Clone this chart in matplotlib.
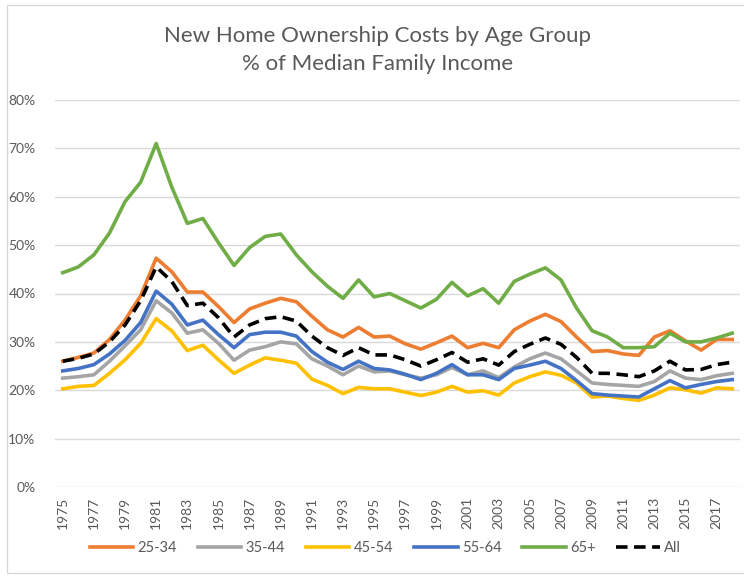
import matplotlib
matplotlib.use("Agg")
import matplotlib.pyplot as plt
from matplotlib.patches import Rectangle
from matplotlib.ticker import FuncFormatter

plt.rcParams["font.family"] = ["Lato", "DejaVu Sans"]

years = list(range(1975, 2019))

age_25_34 = [26, 26.8, 27.7, 30.5, 34.5, 39.5, 47.3, 44.5, 40.3, 40.3, 37.3, 34, 36.8, 38, 39, 38.3,
             35.3, 32.5, 31, 33, 31, 31.2, 29.6, 28.5, 29.8, 31.2, 28.8, 29.7, 28.8, 32.5, 34.3, 35.7,
             34.2, 31, 28, 28.2, 27.5, 27.2, 31, 32.3, 30.2, 28.3, 30.5, 30.5]
age_35_44 = [22.5, 22.8, 23.2, 26, 29.2, 32.5, 38.5, 36, 31.8, 32.5, 29.7, 26.2, 28.3, 29, 30, 29.6,
             26.5, 25, 23.2, 25, 23.8, 24, 23.2, 22.5, 23.2, 24.7, 23.2, 24, 22.6, 24.8, 26.5, 27.7,
             26.5, 24, 21.5, 21.2, 21, 20.8, 21.8, 24, 22.5, 22.2, 23, 23.5]
age_45_54 = [20.3, 20.8, 21, 23.5, 26.3, 29.7, 34.8, 32.3, 28.2, 29.3, 26.3, 23.5, 25.2, 26.7, 26.2, 25.6,
             22.3, 21, 19.3, 20.6, 20.3, 20.3, 19.6, 18.9, 19.6, 20.8, 19.6, 19.9, 19, 21.5, 22.8, 23.8,
             23.1, 21.5, 18.6, 18.8, 18.3, 17.9, 19, 20.5, 20.1, 19.4, 20.5, 20.3]
age_55_64 = [24, 24.5, 25.3, 27.5, 30.3, 34, 40.5, 37.8, 33.5, 34.5, 31.5, 28.8, 31.5, 32, 32, 31.2,
             28, 25.8, 24.3, 26, 24.5, 24.2, 23.3, 22.2, 23.5, 25.3, 23.2, 23.2, 22.2, 24.5, 25.2, 26,
             24.5, 22, 19.3, 19, 18.8, 18.6, 20.3, 22, 20.5, 21.2, 21.8, 22.2]
age_65_plus = [44.3, 45.5, 48, 52.5, 59, 63, 71, 62, 54.5, 55.5, 50.5, 45.8, 49.5, 51.8, 52.3, 48,
               44.5, 41.5, 39, 42.8, 39.3, 40, 38.5, 37, 38.8, 42.3, 39.5, 41, 38, 42.5, 44, 45.3,
               42.8, 37, 32.3, 31, 28.8, 28.8, 29, 31.8, 30, 30, 30.8, 31.8]
all_ages = [26, 26.6, 27.5, 30, 33.5, 38.5, 45.5, 42.5, 37.5, 38, 35, 31, 33.5, 34.8, 35.2, 34.3,
            31.2, 28.8, 27.2, 28.8, 27.3, 27.3, 26.3, 25, 26.3, 27.8, 25.8, 26.5, 25.2, 28, 29.5, 30.8,
            29.5, 26.8, 23.5, 23.5, 23.2, 22.8, 24, 26, 24.2, 24.3, 25.3, 25.8]

series = [
    ("25-34", age_25_34, "#ED7D31"),
    ("35-44", age_35_44, "#A5A5A5"),
    ("45-54", age_45_54, "#FFC000"),
    ("55-64", age_55_64, "#4472C4"),
    ("65+", age_65_plus, "#70AD47"),
]

fig = plt.figure(figsize=(7.44, 5.76), dpi=100)
fig.patches.append(Rectangle((7 / 744, 0.005), 0.995 - 7 / 744 + 0.01, 1 - 5 / 576 - 0.005,
                             transform=fig.transFigure, fill=False, edgecolor="#d9d9d9", lw=1))
ax = fig.add_axes([55 / 744, 1 - 487 / 576, 685 / 744, 387 / 576])

x = list(range(len(years)))
for name, vals, color in series:
    ax.plot(x, vals, color=color, lw=2.6, label=name)
ax.plot(x, all_ages, color="black", lw=2.6, ls=(0, (3.2, 1.8)), label="All")

ax.set_xlim(-0.5, len(years) - 0.5)
ax.set_ylim(0, 80)
ax.set_yticks(range(0, 81, 10))
ax.yaxis.set_major_formatter(FuncFormatter(lambda v, p: f"{int(v)}%"))
ax.set_xticks(x[::2])
ax.set_xticklabels([str(y) for y in years[::2]], rotation=90)
ax.grid(axis="y", color="#d9d9d9", lw=1)
ax.set_axisbelow(True)
for s in ax.spines.values():
    s.set_visible(False)
ax.tick_params(axis="both", length=0, colors="#595959", labelsize=10)
ax.tick_params(axis="y", pad=14)
ax.tick_params(axis="x", pad=7)

fig.text(0.508, 1 - 36 / 576, "New Home Ownership Costs by Age Group", ha="center", va="center",
         fontsize=16, color="#595959")
fig.text(0.508, 1 - 64 / 576, "% of Median Family Income", ha="center", va="center",
         fontsize=16, color="#595959")

fig.legend(loc="center", bbox_to_anchor=(0.518, 1 - 548 / 576), ncol=6, frameon=False,
           fontsize=10.5, handlelength=3.0, handletextpad=0.3, columnspacing=1.4, labelcolor="#595959")

fig.savefig("out.png", dpi=100)
